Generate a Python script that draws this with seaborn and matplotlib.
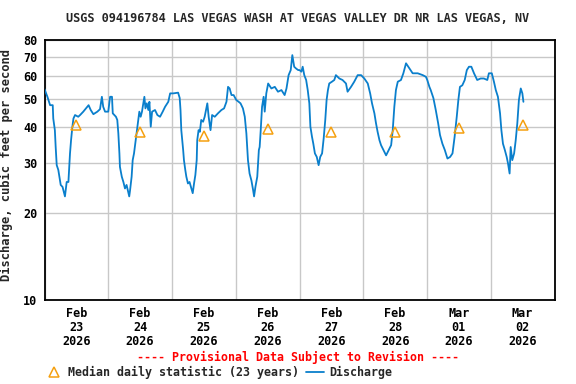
import matplotlib
matplotlib.use("Agg")
import matplotlib.pyplot as plt
import matplotlib.dates as mdates
from matplotlib.ticker import FixedLocator, FixedFormatter, NullLocator
import pandas as pd
import seaborn as sns

TITLE = "USGS 094196784 LAS VEGAS WASH AT VEGAS VALLEY DR NR LAS VEGAS, NV"
PROVISIONAL = "---- Provisional Data Subject to Revision ----"
Y_LABEL = "Discharge, cubic feet per second"
START = "2026-02-23 00:00"

# hours since Feb 23 00:00, discharge (cfs)
hours = [
    0, 1.1, 2.1, 3.1, 3.3, 3.9, 4.2, 4.6, 5.2, 5.6, 6.1, 6.8, 7.7, 8.35, 9.0, 9.6,
    10.0, 10.5, 10.9, 11.5, 12.7, 13.4, 14.6, 15.6, 16.6, 17.4, 18.4, 19.9, 20.9,
    21.6, 22.1, 22.8,
    24.0, 24.7, 25.4, 25.7, 26.9, 27.4, 27.8, 28.2, 28.4, 29.1, 29.7, 30.3, 30.9,
    31.6, 31.9, 32.2, 32.8, 33.2, 33.7, 34.1, 34.7, 35.1, 35.7, 36.2, 36.7, 37.2,
    37.6, 38.0, 38.5, 39.1, 39.5, 40.0, 40.5, 41.6, 42.5, 43.5, 44.5, 45.4, 46.6, 47.3,
    48.5, 50.3, 50.9, 51.2, 51.5, 52.2, 52.5, 53.0, 53.4, 54.0, 54.6, 55.3, 55.8,
    56.3, 56.8, 57.3, 57.5, 58.0, 58.5, 59.0, 59.7, 60.3, 60.9, 61.3, 61.8, 62.5,
    63.1, 64.1, 65.3, 66.6, 67.6, 68.5, 69.1, 69.7, 70.4,
    71.2, 72.2, 73.1, 73.8, 74.7, 75.4, 76.0, 76.6, 77.2, 77.9, 78.5, 78.9, 79.4,
    80.1, 80.7, 81.0, 81.4, 81.9, 82.5, 82.9, 83.5, 84.2, 85.4, 86.7, 87.9, 89.2,
    90.4, 91.1, 91.9, 92.7, 93.3, 94.0, 94.7, 95.5,
    96.0, 96.7, 97.2, 97.8, 98.5, 99.1, 99.7, 100.1, 100.7, 101.2, 101.8, 102.5,
    103.2, 103.8, 104.5, 105.1, 105.7, 106.2, 106.7, 107.2, 108.2, 109.1, 109.7,
    111.0, 112.2, 113.5, 114.1, 115.4, 116.6, 117.9, 119.2,
    120.4, 121.7, 122.6, 123.3, 124.2, 124.8, 125.4, 126.1, 126.7, 127.6, 128.6,
    129.6, 130.5, 131.1, 131.7, 132.3, 133.0, 134.2, 135.1, 136.1, 137.4, 138.6,
    140.5, 142.4,
    143.6, 144.1, 144.9, 145.4, 146.4, 147.3, 148.2, 148.9, 149.8, 150.7, 151.7,
    152.7, 153.6, 154.4, 155.2, 155.8, 156.4, 157.3, 158.2, 159.0, 159.8, 160.7,
    161.7, 162.9, 164.2, 165.4, 166.7, 167.3,
    168.4, 169.2, 169.9, 170.7, 171.5, 172.0, 172.6, 173.3, 174.0, 174.5, 175.1,
    175.5, 176.1, 176.8, 177.4, 178.0, 178.6, 179.3, 179.9, 180.3,
]
discharge = [
    54, 50.8, 47.5, 47.5, 42.7, 38.9, 34.1, 29.4, 28.3, 26.8, 25.1, 24.7, 22.9, 25.7,
    25.7, 32.3, 35.9, 40, 42.7, 43.9, 43.3, 43.9, 45.1, 46.3, 47.5, 45.7, 44.2, 45.1,
    46.0, 50.8, 46.9, 45.1,
    45.1, 50.8, 50.8, 44.5, 43.3, 42.2, 37.9, 32.3, 29.0, 26.8, 25.7, 24.4, 25.1,
    23.5, 22.9, 24.0, 26.8, 30.6, 32.3, 34.5, 37.9, 40.5, 45.1, 43.3, 45.1, 48.2,
    50.8, 46.3, 48.2, 45.7, 48.8, 40.0, 45.1, 45.7, 43.9, 43.3, 45.1, 46.9, 48.8, 52.2,
    52.2, 52.5, 50.3, 45.7, 38.9, 33.2, 30.6, 28.3, 26.8, 25.4, 25.7, 24.4, 23.5,
    25.4, 27.2, 30.6, 35.9, 38.9, 38.4, 42.2, 41.6, 43.3, 46.3, 48.2, 43.3, 38.9,
    43.9, 43.3, 44.5, 45.7, 46.3, 48.8, 55.0, 54.3, 51.5,
    51.5, 49.5, 48.8, 48.2, 46.3, 43.3, 37.9, 30.6, 27.5, 26.0, 24.2, 22.9, 24.7,
    26.8, 33.2, 34.0, 38.9, 46.9, 50.8, 45.1, 52.2, 56.5, 54.3, 55.0, 52.9, 53.6,
    51.5, 54.3, 60.4, 62.9, 70.9, 64.6, 63.7, 62.9,
    62.9, 62.1, 64.6, 60.4, 58.1, 53.6, 48.2, 40.0, 36.9, 34.9, 32.3, 31.4,
    29.4, 31.4, 32.3, 36.4, 42.2, 49.5, 53.6, 56.5, 57.3, 58.1, 60.4,
    58.8, 58.1, 56.5, 52.9, 55.0, 57.3, 60.4, 60.4,
    58.8, 56.5, 52.2, 48.2, 44.5, 41.1, 38.4, 35.9, 34.5, 33.2, 31.8,
    33.2, 34.5, 38.9, 46.9, 53.6, 57.3, 58.1, 61.3, 66.4, 63.7, 61.3,
    61.3, 60.4,
    59.6, 58.1, 55.0, 53.6, 50.3, 45.7, 41.1, 37.4, 34.9, 33.2, 31.0,
    31.4, 32.3, 36.9, 43.3, 49.5, 55.0, 55.7, 58.1, 62.9, 64.6, 64.6,
    61.3, 58.1, 58.8, 58.8, 58.1, 61.3,
    61.3, 57.3, 53.6, 50.8, 44.5, 38.9, 34.9, 33.2, 31.4, 29.8, 27.5,
    34.0, 30.6, 32.3, 35.9, 41.1, 49.5, 54.3, 52.2, 48.8,
]

median_days = ["2026-02-23", "2026-02-24", "2026-02-25", "2026-02-26",
               "2026-02-27", "2026-02-28", "2026-03-01", "2026-03-02"]
median_values = [40.5, 38.4, 37.2, 39.4, 38.4, 38.4, 39.5, 40.4]
day_labels = ["Feb\n23\n2026", "Feb\n24\n2026", "Feb\n25\n2026", "Feb\n26\n2026",
              "Feb\n27\n2026", "Feb\n28\n2026", "Mar\n01\n2026", "Mar\n02\n2026"]
y_ticks = [10, 20, 30, 40, 50, 60, 70, 80]

BLUE = "#0a7fcc"
ORANGE = "#f5a00f"

sns.set_theme(style="white")
plt.rcParams["font.family"] = ["DejaVu Sans Mono"]
plt.rcParams["font.weight"] = "bold"

fig = plt.figure(figsize=(5.76, 3.84), dpi=100)
ax = fig.add_axes([44.5 / 576, 1 - 300 / 384, 510 / 576, 260 / 384])

t0 = pd.Timestamp(START)
df = pd.DataFrame({"time": t0 + pd.to_timedelta(hours, unit="h"),
                   "Discharge": discharge})
med = pd.DataFrame({"time": pd.to_datetime(median_days) + pd.Timedelta(hours=12),
                    "value": median_values})

sns.lineplot(data=med, x="time", y="value", ax=ax, marker="^", linestyle="none",
             markersize=7.5, markerfacecolor="none", markeredgecolor=ORANGE,
             markeredgewidth=1.1, color=ORANGE,
             label="Median daily statistic (23 years)", zorder=4)
sns.lineplot(data=df, x="time", y="Discharge", ax=ax, color=BLUE, linewidth=1.3,
             label="Discharge", zorder=3)

ax.set_yscale("log")
ax.set_ylim(10, 80)
ax.yaxis.set_major_locator(FixedLocator(y_ticks))
ax.yaxis.set_major_formatter(FixedFormatter([str(v) for v in y_ticks]))
ax.yaxis.set_minor_locator(NullLocator())

x_days = pd.date_range(t0, periods=9, freq="D")
ax.set_xlim(x_days[0], x_days[-1])
ax.xaxis.set_major_locator(FixedLocator(mdates.date2num(x_days)))
ax.xaxis.set_major_formatter(FixedFormatter([""] * len(x_days)))
noons = x_days[:-1] + pd.Timedelta(hours=12)
ax.xaxis.set_minor_locator(FixedLocator(mdates.date2num(noons)))
ax.xaxis.set_minor_formatter(FixedFormatter(day_labels))

ax.grid(True, which="major", color="#c8c8c8", linewidth=1.0)
ax.tick_params(axis="both", which="both", length=0, colors="black")
ax.tick_params(axis="y", labelsize=8.5, pad=5)
ax.tick_params(axis="x", which="minor", labelsize=8.5, pad=5)
for lab in ax.get_xticklabels(minor=True):
    lab.set_linespacing(1.1)
    lab.set_fontweight("bold")
for lab in ax.get_yticklabels():
    lab.set_fontweight("bold")

for s in ax.spines.values():
    s.set_color("black")
    s.set_linewidth(1.3)
    s.set_visible(True)

ax.set_xlabel("")
ax.set_ylabel(Y_LABEL, fontsize=8.7, fontweight="bold")
ax.yaxis.set_label_coords(-0.062, 0.52)

fig.text(0.516, 0.951, TITLE, ha="center", va="center", fontsize=8.6,
         fontweight="bold")
fig.text(0.517, 0.068, PROVISIONAL, ha="center", va="center", fontsize=8.4,
         fontweight="bold", color="#ff0000")

handles, labels = ax.get_legend_handles_labels()
ax.get_legend().remove()
fig.legend(handles, labels, loc="center", bbox_to_anchor=(0.38, 0.031),
           ncol=2, frameon=False, handlelength=1.5,
           handletextpad=0.45, columnspacing=0.6, borderpad=0,
           prop={"weight": "bold", "size": 8.4})

fig.savefig("out.png", dpi=100)
